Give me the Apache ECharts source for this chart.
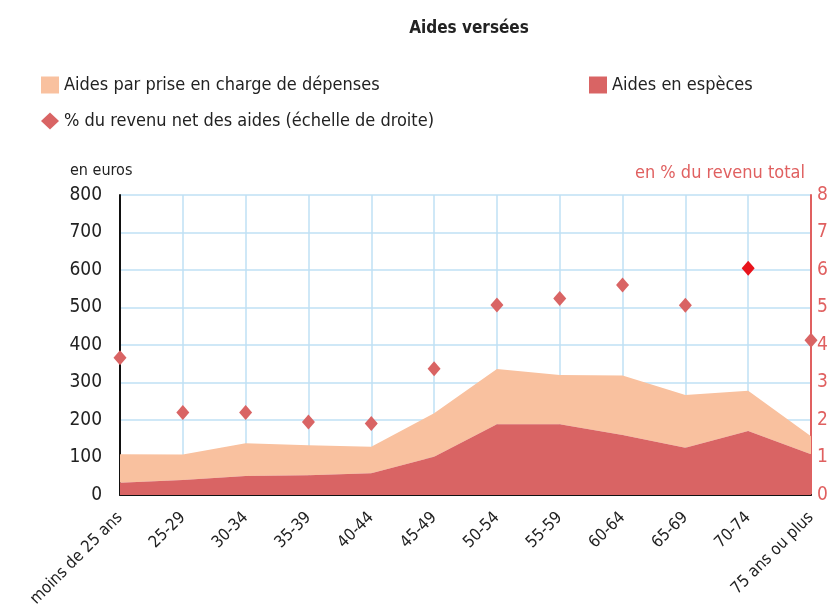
<!DOCTYPE html>
<html>
<head>
<meta charset="utf-8">
<script src="https://cdn.jsdelivr.net/npm/echarts@6/dist/echarts.min.js"></script>
<style>
  html, body { margin: 0; padding: 0; background: #fff; }
  #chart { width: 837px; height: 614px; }
</style>
</head>
<body>
<div id="chart"></div>
<script>
const categories = ['moins de 25 ans', '25-29', '30-34', '35-39', '40-44', '45-49',
  '50-54', '55-59', '60-64', '65-69', '70-74', '75 ans ou plus'];

// euros, stacked: cash aid at the bottom, expense aid on top
const aidesEspeces = [33, 40, 51, 53, 58, 102, 189, 189, 160, 126, 171, 109];
const aidesPriseEnCharge = [76, 68, 87, 80, 71, 116, 147, 131, 159, 141, 107, 48];

// % of net income (right axis)
const pctRevenu = [3.66, 2.2, 2.2, 1.95, 1.91, 3.37, 5.07, 5.24, 5.6, 5.06, 6.05, 4.13];
const highlightIndex = 10;

const FONT = '"Liberation Sans Narrow", "DejaVu Sans Condensed", sans-serif';
const RED = '#d96464';
const PEACH = '#f9c19f';
const GRID = '#bfe0f5';

const chart = echarts.init(document.getElementById('chart'));

const option = {
  textStyle: { fontFamily: FONT },
  title: {
    text: 'Aides versées',
    left: 464,
    top: 15,
    textAlign: 'center',
    textStyle: { fontSize: 17, fontWeight: 'bold', color: '#222', fontFamily: FONT }
  },
  legend: [
    {
      data: [{ name: 'Aides par prise en charge de dépenses', icon: 'rect' }],
      left: 36, top: 71, itemWidth: 18, itemHeight: 17,
      textStyle: { fontSize: 18, color: '#222', fontFamily: FONT }
    },
    {
      data: [{ name: 'Aides en espèces', icon: 'rect' }],
      left: 584, top: 71, itemWidth: 18, itemHeight: 17,
      textStyle: { fontSize: 18, color: '#222', fontFamily: FONT }
    },
    {
      data: [{ name: '% du revenu net des aides (échelle de droite)', icon: 'diamond' }],
      left: 36, top: 107, itemWidth: 18, itemHeight: 17,
      textStyle: { fontSize: 18, color: '#222', fontFamily: FONT }
    }
  ],
  grid: { left: 120, right: 26, top: 195, bottom: 119 },
  xAxis: {
    type: 'category',
    data: categories,
    boundaryGap: false,
    axisLine: { lineStyle: { color: '#111', width: 2 } },
    axisTick: { show: false },
    splitLine: { show: true, lineStyle: { color: GRID, width: 1.5 } },
    axisLabel: { rotate: 45, fontSize: 16.5, color: '#222', margin: 20, fontFamily: FONT }
  },
  yAxis: [
    {
      type: 'value',
      min: 0, max: 800, interval: 100,
      name: 'en euros',
      nameLocation: 'end',
      nameGap: 16,
      nameTextStyle: { align: 'left', padding: [0, 0, 0, -50], fontSize: 16, color: '#222', fontFamily: FONT },
      axisLine: { show: true, lineStyle: { color: '#111', width: 2 } },
      axisTick: { show: false },
      splitLine: { lineStyle: { color: GRID, width: 1.5 } },
      axisLabel: { fontSize: 19, color: '#222', margin: 18, fontFamily: FONT }
    },
    {
      type: 'value',
      min: 0, max: 8, interval: 1,
      position: 'right',
      name: 'en % du revenu total',
      nameLocation: 'end',
      nameGap: 13,
      nameTextStyle: { align: 'right', padding: [0, 6, 0, 0], fontSize: 18, color: '#e06060', fontFamily: FONT },
      axisLine: { show: true, lineStyle: { color: '#e06060', width: 2 } },
      axisTick: { show: false },
      splitLine: { show: false },
      axisLabel: { fontSize: 19, color: '#e06060', margin: 6, fontFamily: FONT }
    }
  ],
  series: [
    {
      name: 'Aides en espèces',
      type: 'line',
      stack: 'aides',
      data: aidesEspeces,
      symbol: 'none',
      lineStyle: { width: 0 },
      itemStyle: { color: RED },
      areaStyle: { color: RED, opacity: 1 },
      z: 3
    },
    {
      name: 'Aides par prise en charge de dépenses',
      type: 'line',
      stack: 'aides',
      data: aidesPriseEnCharge,
      symbol: 'none',
      lineStyle: { width: 0 },
      itemStyle: { color: PEACH },
      areaStyle: { color: PEACH, opacity: 1 },
      z: 2
    },
    {
      name: '% du revenu net des aides (échelle de droite)',
      type: 'scatter',
      yAxisIndex: 1,
      symbol: 'diamond',
      symbolSize: [13, 15],
      itemStyle: { color: RED, opacity: 1 },
      data: pctRevenu.map((v, i) => i === highlightIndex
        ? { value: v, itemStyle: { color: '#e8141c', opacity: 1 } }
        : v),
      z: 5
    }
  ]
};

chart.setOption(option);
</script>
</body>
</html>
